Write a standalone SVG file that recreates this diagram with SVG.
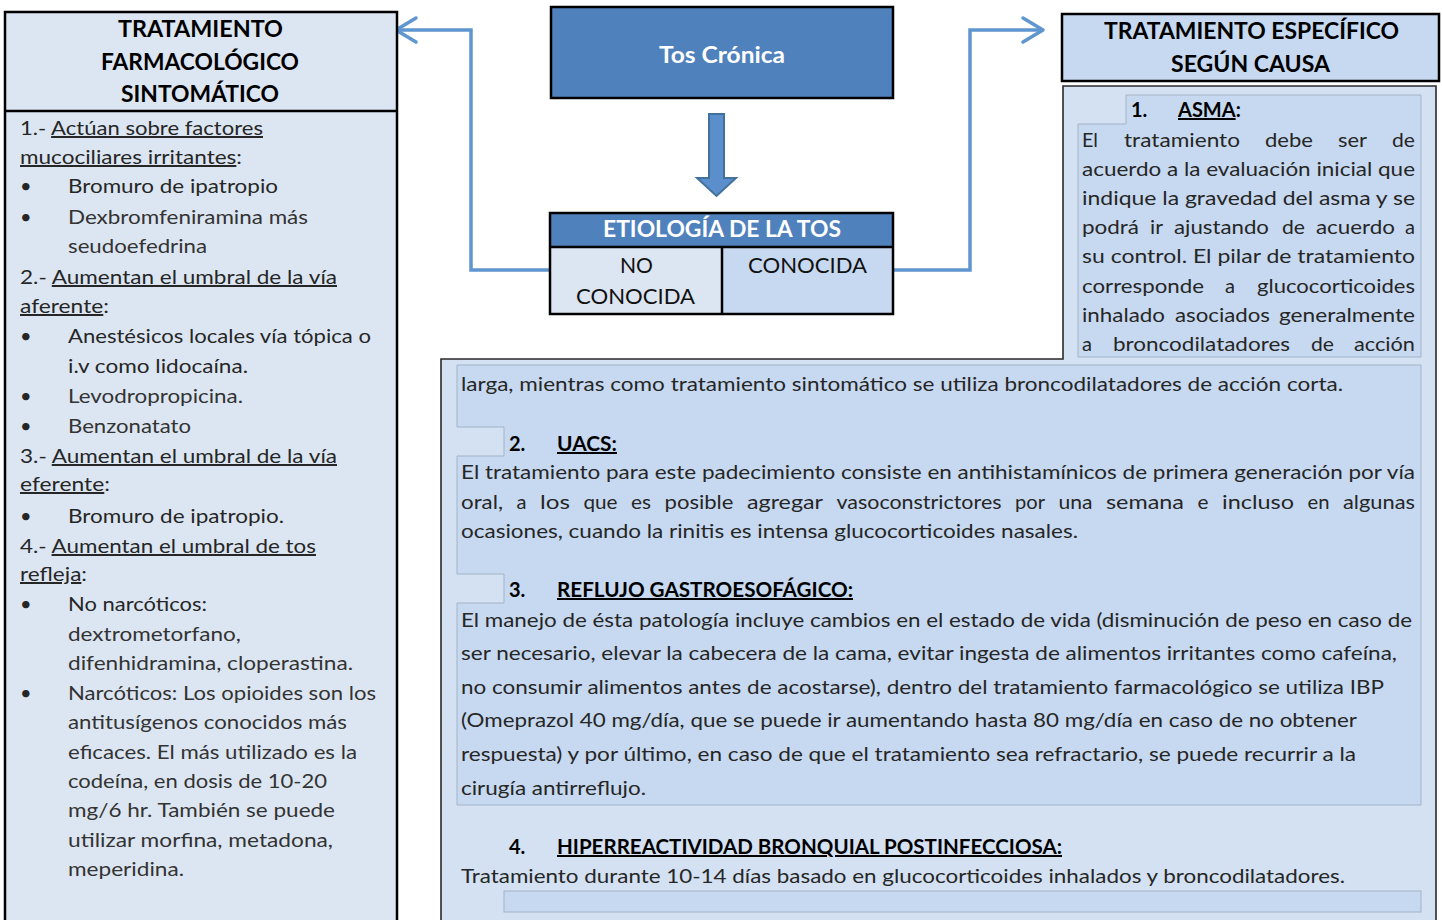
<svg xmlns="http://www.w3.org/2000/svg" width="1442" height="920" viewBox="0 0 1442 920">
<defs>
<style>
.t{font-family:Lato,"Open Sans","Liberation Sans",sans-serif;font-size:20px;fill:#262626}
.g{fill:#333}
.bd{font-weight:bold;fill:#000}
.hd{font-family:Lato,"Open Sans","Liberation Sans",sans-serif;font-size:23px;font-weight:bold;fill:#000}
.wh{font-family:Lato,"Open Sans","Liberation Sans",sans-serif;font-size:22px;font-weight:bold;fill:#fff}
.cell{font-family:Lato,"Open Sans","Liberation Sans",sans-serif;font-size:22px;fill:#111}
.u{text-decoration:underline}
.conn{fill:none;stroke:#5f96d0;stroke-width:3.5}
.shade{fill:#c6d9f0;stroke:#a3b3c6;stroke-width:1}
</style>
<marker id="chev" viewBox="0 0 26 30" refX="23" refY="15" markerWidth="26" markerHeight="30" markerUnits="userSpaceOnUse" orient="auto">
<path d="M3,3 L23,15 L3,27" fill="none" stroke="#5f96d0" stroke-width="3.5" stroke-linecap="round" stroke-linejoin="round"/>
</marker>
</defs>
<rect width="1442" height="920" fill="#fff"/>

<g id="connectors">
<path class="conn" d="M550,270 H471 V30 H396" marker-end="url(#chev)"/>
<path class="conn" d="M893,270 H970 V30 H1043" marker-end="url(#chev)"/>
<polygon points="709,114 724,114 724,178 736,178 716.5,196 697,178 709,178" fill="#5b8fcc" stroke="#41719c" stroke-width="2"/>
</g>

<g id="sintomatico">
<rect x="5" y="12" width="392" height="920" fill="#dce6f2" stroke="#000" stroke-width="2.5"/>
<line x1="5" y1="111" x2="397" y2="111" stroke="#000" stroke-width="2.5"/>
<text class="hd" x="118" y="37" textLength="165" lengthAdjust="spacingAndGlyphs">TRATAMIENTO</text>
<text class="hd" x="101" y="70" textLength="198" lengthAdjust="spacingAndGlyphs">FARMACOLÓGICO</text>
<text class="hd" x="121" y="102" textLength="158" lengthAdjust="spacingAndGlyphs">SINTOMÁTICO</text>
<g class="t">
<text x="20" y="135" textLength="243" lengthAdjust="spacingAndGlyphs">1.- <tspan class="u">Actúan sobre factores</tspan></text>
<text x="20" y="164" textLength="222" lengthAdjust="spacingAndGlyphs"><tspan class="u">mucociliares irritantes</tspan>:</text>
<text x="20" y="193">•</text>
<text x="68" y="193" textLength="210" lengthAdjust="spacingAndGlyphs">Bromuro de ipatropio</text>
<text x="20" y="224">•</text>
<text class="g" x="68" y="224" textLength="240" lengthAdjust="spacingAndGlyphs">Dexbromfeniramina más</text>
<text class="g" x="68" y="253" textLength="139" lengthAdjust="spacingAndGlyphs">seudoefedrina</text>
<text x="20" y="284" textLength="317" lengthAdjust="spacingAndGlyphs">2.- <tspan class="u">Aumentan el umbral de la vía</tspan></text>
<text x="20" y="313" textLength="89" lengthAdjust="spacingAndGlyphs"><tspan class="u">aferente</tspan>:</text>
<text x="20" y="343">•</text>
<text x="68" y="343" textLength="303" lengthAdjust="spacingAndGlyphs">Anestésicos locales vía tópica o</text>
<text x="68" y="373" textLength="180" lengthAdjust="spacingAndGlyphs">i.v como lidocaína.</text>
<text x="20" y="403">•</text>
<text class="g" x="68" y="403" textLength="175" lengthAdjust="spacingAndGlyphs">Levodropropicina.</text>
<text x="20" y="433">•</text>
<text class="g" x="68" y="433" textLength="123" lengthAdjust="spacingAndGlyphs">Benzonatato</text>
<text x="20" y="463" textLength="317" lengthAdjust="spacingAndGlyphs">3.- <tspan class="u">Aumentan el umbral de la vía</tspan></text>
<text x="20" y="491" textLength="90" lengthAdjust="spacingAndGlyphs"><tspan class="u">eferente</tspan>:</text>
<text x="20" y="523">•</text>
<text x="68" y="523" textLength="216" lengthAdjust="spacingAndGlyphs">Bromuro de ipatropio.</text>
<text x="20" y="553" textLength="296" lengthAdjust="spacingAndGlyphs">4.- <tspan class="u">Aumentan el umbral de tos</tspan></text>
<text x="20" y="581" textLength="67" lengthAdjust="spacingAndGlyphs"><tspan class="u">refleja</tspan>:</text>
<text x="20" y="611">•</text>
<text x="68" y="611" textLength="139" lengthAdjust="spacingAndGlyphs">No narcóticos:</text>
<text class="g" x="68" y="641" textLength="173" lengthAdjust="spacingAndGlyphs">dextrometorfano,</text>
<text class="g" x="68" y="670" textLength="285" lengthAdjust="spacingAndGlyphs">difenhidramina, cloperastina.</text>
<text x="20" y="700">•</text>
<text class="g" x="68" y="700" textLength="308" lengthAdjust="spacingAndGlyphs">Narcóticos: Los opioides son los</text>
<text class="g" x="68" y="729" textLength="279" lengthAdjust="spacingAndGlyphs">antitusígenos conocidos más</text>
<text class="g" x="68" y="759" textLength="289" lengthAdjust="spacingAndGlyphs">eficaces. El más utilizado es la</text>
<text class="g" x="68" y="788" textLength="259" lengthAdjust="spacingAndGlyphs">codeína, en dosis de 10-20</text>
<text class="g" x="68" y="817" textLength="267" lengthAdjust="spacingAndGlyphs">mg/6 hr. También se puede</text>
<text class="g" x="68" y="847" textLength="265" lengthAdjust="spacingAndGlyphs">utilizar morfina, metadona,</text>
<text class="g" x="68" y="876" textLength="116" lengthAdjust="spacingAndGlyphs">meperidina.</text>
</g>
</g>

<g id="tos-cronica">
<rect x="551" y="7" width="342" height="91" fill="#4f81bd" stroke="#000" stroke-width="2.5"/>
<text class="wh" x="659" y="63" textLength="126" lengthAdjust="spacingAndGlyphs">Tos Crónica</text>
</g>

<g id="etiologia">
<rect x="550" y="213" width="343" height="34" fill="#4f81bd"/>
<rect x="550" y="247" width="172" height="67" fill="#dce6f2"/>
<rect x="722" y="247" width="171" height="67" fill="#c6d9f0"/>
<rect x="550" y="213" width="343" height="101" fill="none" stroke="#000" stroke-width="2.5"/>
<line x1="550" y1="247" x2="893" y2="247" stroke="#000" stroke-width="2.5"/>
<line x1="722" y1="247" x2="722" y2="314" stroke="#000" stroke-width="2.5"/>
<text class="wh" x="603" y="237" textLength="238" lengthAdjust="spacingAndGlyphs">ETIOLOGÍA DE LA TOS</text>
<text class="cell" x="620" y="273" textLength="33" lengthAdjust="spacingAndGlyphs">NO</text>
<text class="cell" x="576" y="304" textLength="119" lengthAdjust="spacingAndGlyphs">CONOCIDA</text>
<text class="cell" x="748" y="273" textLength="119" lengthAdjust="spacingAndGlyphs">CONOCIDA</text>
</g>

<g id="especifico-header">
<rect x="1062" y="14" width="377" height="67" fill="#c6d9f0" stroke="#000" stroke-width="2.5"/>
<text class="hd" x="1104" y="39" textLength="295" lengthAdjust="spacingAndGlyphs">TRATAMIENTO ESPECÍFICO</text>
<text class="hd" x="1171" y="72" textLength="159" lengthAdjust="spacingAndGlyphs">SEGÚN CAUSA</text>
</g>

<g id="especifico-body">
<polygon points="1063,86 1436,86 1436,930 441,930 441,359 1063,359" fill="#d3e1f2" stroke="#2a2a2a" stroke-width="1.6"/>
<polygon class="shade" points="1126,95 1421,95 1421,357 1078,357 1078,124 1126,124"/>
<polygon class="shade" points="457,365 1421,365 1421,805 457,805 457,603 504,603 504,574 457,574 457,456 504,456 504,427 457,427"/>
<rect class="shade" x="504" y="891" width="917" height="21"/>
<g class="t">
<text class="bd" x="1131" y="117">1.</text>
<text class="bd" x="1178" y="117"><tspan class="u">ASMA</tspan>:</text>
<text x="1082" y="147" textLength="16" lengthAdjust="spacingAndGlyphs">El</text>
<text x="1124" y="147" textLength="116" lengthAdjust="spacingAndGlyphs">tratamiento</text>
<text x="1265" y="147" textLength="48" lengthAdjust="spacingAndGlyphs">debe</text>
<text x="1338" y="147" textLength="29" lengthAdjust="spacingAndGlyphs">ser</text>
<text x="1392" y="147" textLength="23" lengthAdjust="spacingAndGlyphs">de</text>
<text x="1082" y="176" textLength="333" lengthAdjust="spacingAndGlyphs">acuerdo a la evaluación inicial que</text>
<text x="1082" y="205" textLength="333" lengthAdjust="spacingAndGlyphs">indique la gravedad del asma y se</text>
<text x="1082" y="234" textLength="57" lengthAdjust="spacingAndGlyphs">podrá</text>
<text x="1150" y="234" textLength="13" lengthAdjust="spacingAndGlyphs">ir</text>
<text x="1174" y="234" textLength="95" lengthAdjust="spacingAndGlyphs">ajustando</text>
<text x="1282" y="234" textLength="23" lengthAdjust="spacingAndGlyphs">de</text>
<text x="1316" y="234" textLength="79" lengthAdjust="spacingAndGlyphs">acuerdo</text>
<text x="1405" y="234" textLength="10" lengthAdjust="spacingAndGlyphs">a</text>
<text x="1082" y="263" textLength="333" lengthAdjust="spacingAndGlyphs">su control. El pilar de tratamiento</text>
<text x="1082" y="293" textLength="122" lengthAdjust="spacingAndGlyphs">corresponde</text>
<text x="1225" y="293" textLength="10" lengthAdjust="spacingAndGlyphs">a</text>
<text x="1257" y="293" textLength="158" lengthAdjust="spacingAndGlyphs">glucocorticoides</text>
<text x="1082" y="322" textLength="83" lengthAdjust="spacingAndGlyphs">inhalado</text>
<text x="1175" y="322" textLength="95" lengthAdjust="spacingAndGlyphs">asociados</text>
<text x="1279" y="322" textLength="136" lengthAdjust="spacingAndGlyphs">generalmente</text>
<text x="1082" y="351" textLength="10" lengthAdjust="spacingAndGlyphs">a</text>
<text x="1113" y="351" textLength="177" lengthAdjust="spacingAndGlyphs">broncodilatadores</text>
<text x="1311" y="351" textLength="23" lengthAdjust="spacingAndGlyphs">de</text>
<text x="1354" y="351" textLength="61" lengthAdjust="spacingAndGlyphs">acción</text>

<text x="461" y="391" textLength="882" lengthAdjust="spacingAndGlyphs">larga, mientras como tratamiento sintomático se utiliza broncodilatadores de acción corta.</text>

<text class="bd" x="509" y="451">2.</text>
<text class="bd u" x="557" y="451" textLength="60" lengthAdjust="spacingAndGlyphs">UACS:</text>
<text x="461" y="479" textLength="954" lengthAdjust="spacingAndGlyphs">El tratamiento para este padecimiento consiste en antihistamínicos de primera generación por vía</text>
<text x="461" y="509" textLength="42" lengthAdjust="spacingAndGlyphs">oral,</text>
<text x="516.5" y="509" textLength="10" lengthAdjust="spacingAndGlyphs">a</text>
<text x="540" y="509" textLength="30" lengthAdjust="spacingAndGlyphs">los</text>
<text x="583.5" y="509" textLength="34" lengthAdjust="spacingAndGlyphs">que</text>
<text x="631" y="509" textLength="20" lengthAdjust="spacingAndGlyphs">es</text>
<text x="664.5" y="509" textLength="69" lengthAdjust="spacingAndGlyphs">posible</text>
<text x="747" y="509" textLength="76" lengthAdjust="spacingAndGlyphs">agregar</text>
<text x="836.5" y="509" textLength="165" lengthAdjust="spacingAndGlyphs">vasoconstrictores</text>
<text x="1015" y="509" textLength="30" lengthAdjust="spacingAndGlyphs">por</text>
<text x="1058.5" y="509" textLength="34" lengthAdjust="spacingAndGlyphs">una</text>
<text x="1106" y="509" textLength="78" lengthAdjust="spacingAndGlyphs">semana</text>
<text x="1197.5" y="509" textLength="11" lengthAdjust="spacingAndGlyphs">e</text>
<text x="1222" y="509" textLength="72" lengthAdjust="spacingAndGlyphs">incluso</text>
<text x="1307.5" y="509" textLength="22" lengthAdjust="spacingAndGlyphs">en</text>
<text x="1343" y="509" textLength="72" lengthAdjust="spacingAndGlyphs">algunas</text>
<text x="461" y="538" textLength="617" lengthAdjust="spacingAndGlyphs">ocasiones, cuando la rinitis es intensa  glucocorticoides nasales.</text>

<text class="bd" x="509" y="597">3.</text>
<text class="bd u" x="557" y="597" textLength="296" lengthAdjust="spacingAndGlyphs">REFLUJO GASTROESOFÁGICO:</text>
<text x="461" y="627" textLength="951" lengthAdjust="spacingAndGlyphs">El manejo de ésta patología incluye cambios en el estado de vida (disminución de peso en caso de</text>
<text x="461" y="660" textLength="936" lengthAdjust="spacingAndGlyphs">ser necesario, elevar la cabecera de la cama, evitar ingesta de alimentos irritantes como cafeína,</text>
<text x="461" y="694" textLength="923" lengthAdjust="spacingAndGlyphs">no consumir alimentos antes de acostarse), dentro del tratamiento farmacológico se utiliza IBP</text>
<text x="461" y="727" textLength="896" lengthAdjust="spacingAndGlyphs">(Omeprazol 40 mg/día, que se puede ir aumentando hasta 80 mg/día en caso de no obtener</text>
<text x="461" y="761" textLength="895" lengthAdjust="spacingAndGlyphs">respuesta) y por último, en caso de que el tratamiento sea refractario, se puede recurrir a la</text>
<text x="461" y="795" textLength="185" lengthAdjust="spacingAndGlyphs">cirugía antirreflujo.</text>

<text class="bd" x="509" y="854">4.</text>
<text class="bd u" x="557" y="854" textLength="505" lengthAdjust="spacingAndGlyphs">HIPERREACTIVIDAD BRONQUIAL POSTINFECCIOSA:</text>
<text x="461" y="883" textLength="884" lengthAdjust="spacingAndGlyphs">Tratamiento durante 10-14 días basado en glucocorticoides inhalados y broncodilatadores.</text>
</g>
</g>
</svg>
